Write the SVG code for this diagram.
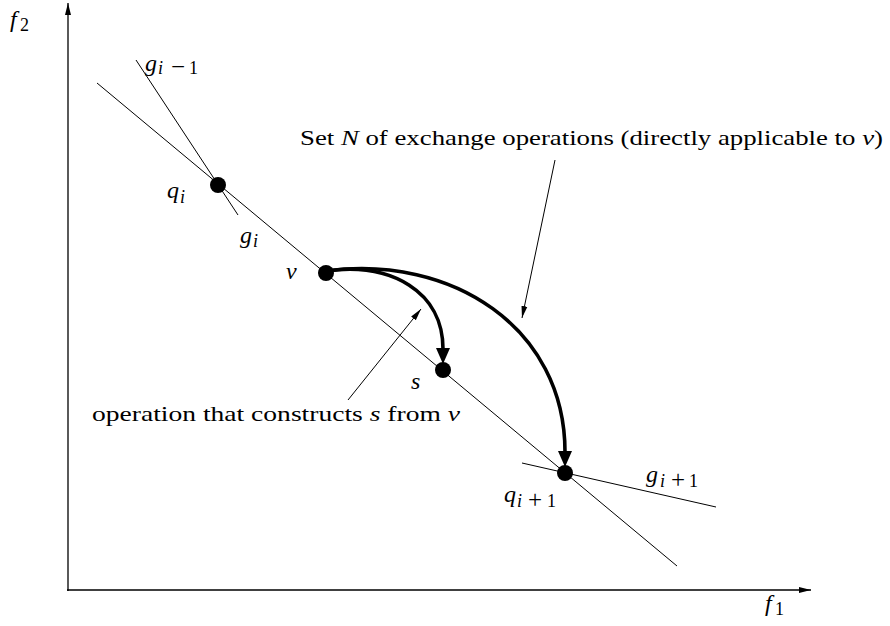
<svg xmlns="http://www.w3.org/2000/svg" width="890" height="626" viewBox="0 0 890 626">
<style>
.ln{stroke:#000;stroke-width:1;fill:none}
.ax{stroke:#000;stroke-width:1.3;fill:none}
.thk{stroke:#000;stroke-width:3.6;fill:none;stroke-linecap:butt}
.pt{fill:#000}
text{font-family:"Liberation Serif","DejaVu Serif",serif;fill:#000}
.m{font-style:italic}
.lbl{font-size:24px}
.txt{font-size:21px}
.sub{font-size:18px}
.op{font-size:25px}
</style>
<defs>
<marker id="ah" markerUnits="userSpaceOnUse" markerWidth="14" markerHeight="10" refX="12" refY="4" orient="auto">
<path d="M0,1 L12,4 L0,7 z" fill="#000"/>
</marker>
<marker id="ahb" markerUnits="userSpaceOnUse" markerWidth="18" markerHeight="16" refX="1" refY="7" orient="auto">
<path d="M0,0 L16,7 L0,14 z" fill="#000"/>
</marker>
</defs>
<g id="axes">
<line class="ax" x1="68" y1="591" x2="68" y2="3" marker-end="url(#ah)"/>
<line class="ax" x1="67" y1="590" x2="811" y2="590" marker-end="url(#ah)"/>
<text class="lbl m" x="10" y="27">f</text><text class="sub" x="20" y="31">2</text>
<text class="lbl m" x="765" y="611">f</text><text class="sub" x="775" y="615">1</text>
</g>
<g id="lines">
<line class="ln" x1="97" y1="83" x2="677" y2="566"/>
<line class="ln" x1="136" y1="60" x2="238" y2="215"/>
<line class="ln" x1="522" y1="463" x2="716" y2="507"/>
<text class="lbl m" x="145" y="71">g</text><text class="sub m" x="158" y="74">i</text><text class="op" x="171" y="75">−</text><text class="sub" x="189" y="74">1</text>
<text class="lbl m" x="240" y="243">g</text><text class="sub m" x="253" y="247">i</text>
<text class="lbl m" x="646" y="482">g</text><text class="sub m" x="660" y="487">i</text><text class="op" x="671" y="488">+</text><text class="sub" x="689" y="487">1</text>
</g>
<g id="node-qi">
<circle class="pt" cx="218" cy="185" r="8"/>
<text class="lbl m" x="167" y="198">q</text><text class="sub m" x="180" y="203">i</text>
</g>
<g id="node-v">
<circle class="pt" cx="326" cy="273" r="8"/>
<text class="lbl m" x="286" y="279">v</text>
</g>
<g id="node-s">
<circle class="pt" cx="443" cy="370" r="8"/>
<text class="lbl m" x="411" y="389">s</text>
</g>
<g id="node-qi1">
<circle class="pt" cx="565" cy="473" r="8"/>
<text class="lbl m" x="504" y="502">q</text><text class="sub m" x="517" y="507">i</text><text class="op" x="528" y="508">+</text><text class="sub" x="547" y="507">1</text>
</g>
<g id="connectors">
<path class="thk" d="M326,271 C392,262 443,292 443,349" marker-end="url(#ahb)"/>
<path class="thk" d="M326,271 C452,254 565,328 565,452" marker-end="url(#ahb)"/>
<line class="ln" x1="555" y1="160" x2="522" y2="318" marker-end="url(#ah)"/>
<line class="ln" x1="348" y1="400" x2="421" y2="309" marker-end="url(#ah)"/>
</g>
<g id="labels">
<text class="txt" x="300" y="145" textLength="583" lengthAdjust="spacingAndGlyphs">Set <tspan class="m">N</tspan> of exchange operations (directly applicable to <tspan class="m">v</tspan>)</text>
<text class="txt" x="92" y="421" textLength="368" lengthAdjust="spacingAndGlyphs">operation that constructs <tspan class="m">s</tspan> from <tspan class="m">v</tspan></text>
</g>
</svg>
